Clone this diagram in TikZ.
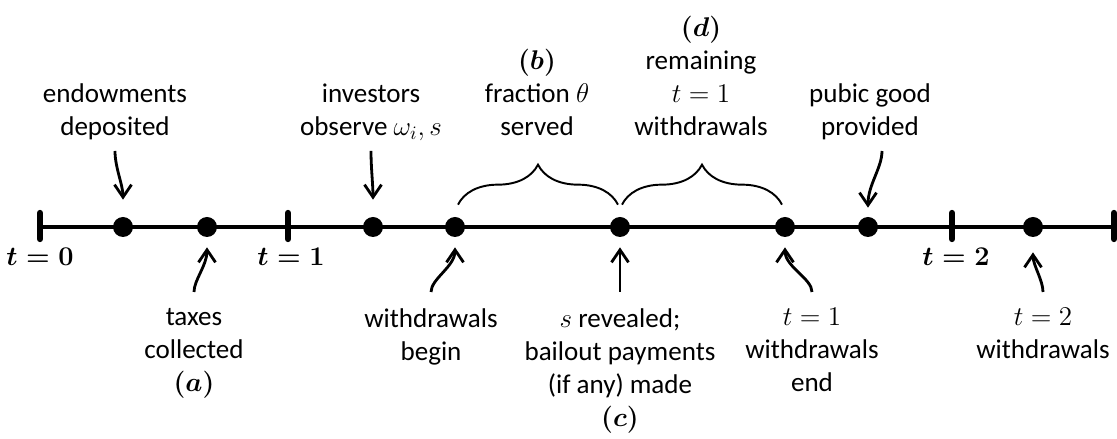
\RequirePackage{fix-cm}
\documentclass[tikz,border=0pt]{standalone}
\usepackage{amsmath}
\usepackage{fontspec}
\setmainfont{Carlito}
\usepackage{xcolor}
\usetikzlibrary{arrows.meta,decorations.pathreplacing}
\definecolor{tblack}{HTML}{000000}

\begin{document}
\begin{tikzpicture}[x=0.02cm, y=0.02cm,
		every node/.style={font=\fontsize{15.4}{18.8}\selectfont, inner sep=0pt},
		evt/.style={circle, fill=tblack, minimum size=0.4cm},
		uplbl/.style={align=center, anchor=south, text depth=0pt},
		lowlbl/.style={align=center, anchor=north},
		arr/.style={color=tblack, line width=1.6pt, -{Straight Barb[length=0.25cm,width=0.34cm]}},
		brc/.style={color=tblack, line width=1.1pt, decorate, decoration={brace, amplitude=0.8cm}}]
		\useasboundingbox (0,0) rectangle (1117,439);
		\draw[color=tblack, line width=1.9pt] (40,212) -- (1114,212);
		\foreach \x in {40,288,952,1114}
			\draw[color=tblack, line width=3.6pt, line cap=round] (\x,200) -- (\x,226);
		\node[anchor=base] (tzero) at (40,173) {{\boldmath$t=0$}};
		\node[anchor=base] (tone) at (291,173) {{\boldmath$t=1$}};
		\node[anchor=base] (ttwo) at (956,173) {{\boldmath$t=2$}};
		\node[evt] (endow) at (123,212) {};
		\node[evt] (tax) at (207,212) {};
		\node[evt] (observe) at (373,212) {};
		\node[evt] (wbegin) at (455,212) {};
		\node[evt] (reveal) at (620,212) {};
		\node[evt] (wend) at (785,212) {};
		\node[evt] (pubgood) at (868,212) {};
		\node[evt] (wlate) at (1033,212) {};
		\node[uplbl] (endowlbl) at (115,303) {endowments\\deposited};
		\node[uplbl] (observelbl) at (371,303) {investors\\observe $\omega_i, s$};
		\node[uplbl] (fraclbl) at (537,303) {{\boldmath$(b)$}\\fraction $\theta$\\served};
		\node[uplbl] (remlbl) at (701,303) {{\boldmath$(d)$}\\remaining\\$t=1$\\withdrawals};
		\node[uplbl] (pubgoodlbl) at (870,303) {pubic good\\provided};
		\node[lowlbl] (taxlbl) at (194,131) {taxes\\collected\\{\boldmath$(a)$}};
		\node[lowlbl] (wbeginlbl) at (431,131) {withdrawals\\begin};
		\node[lowlbl] (reveallbl) at (620,131) {$s$ revealed;\\bailout payments\\(if any) made\\{\boldmath$(c)$}};
		\node[lowlbl] (wendlbl) at (812,131) {$t=1$\\withdrawals\\end};
		\node[lowlbl] (wlatelbl) at (1043,131) {$t=2$\\withdrawals};
		\draw[arr, shorten <=0.3cm, shorten >=0.34cm] (endowlbl) to[out=-90,in=90] (endow);
		\draw[arr, shorten <=0.3cm, shorten >=0.34cm] (observelbl) to[out=-90,in=90] (observe);
		\draw[arr, shorten <=0.3cm, shorten >=0.18cm] ([xshift=0.24cm]pubgoodlbl.south) to[out=-90,in=90] (pubgood);
		\draw[arr, shorten <=0.32cm, shorten >=0.2cm] (taxlbl) to[out=90,in=-90] (tax);
		\draw[arr, shorten <=0.32cm, shorten >=0.2cm] (wbeginlbl) to[out=90,in=-90] (wbegin);
		\draw[arr, shorten <=0.32cm, shorten >=0.2cm] (reveallbl) to[out=90,in=-90] (reveal);
		\draw[arr, shorten <=0.32cm, shorten >=0.2cm] (wendlbl) to[out=90,in=-90] (wend);
		\draw[arr, shorten <=0.32cm, shorten >=0.3cm] (wlatelbl) to[out=90,in=-90] (wlate);
		\draw[brc] ([xshift=0.06cm,yshift=0.24cm]wbegin.north) -- ([xshift=-0.04cm,yshift=0.24cm]reveal.north);
		\draw[brc] ([xshift=0.04cm,yshift=0.24cm]reveal.north) -- ([xshift=-0.06cm,yshift=0.24cm]wend.north);
	\end{tikzpicture}
\end{document}
